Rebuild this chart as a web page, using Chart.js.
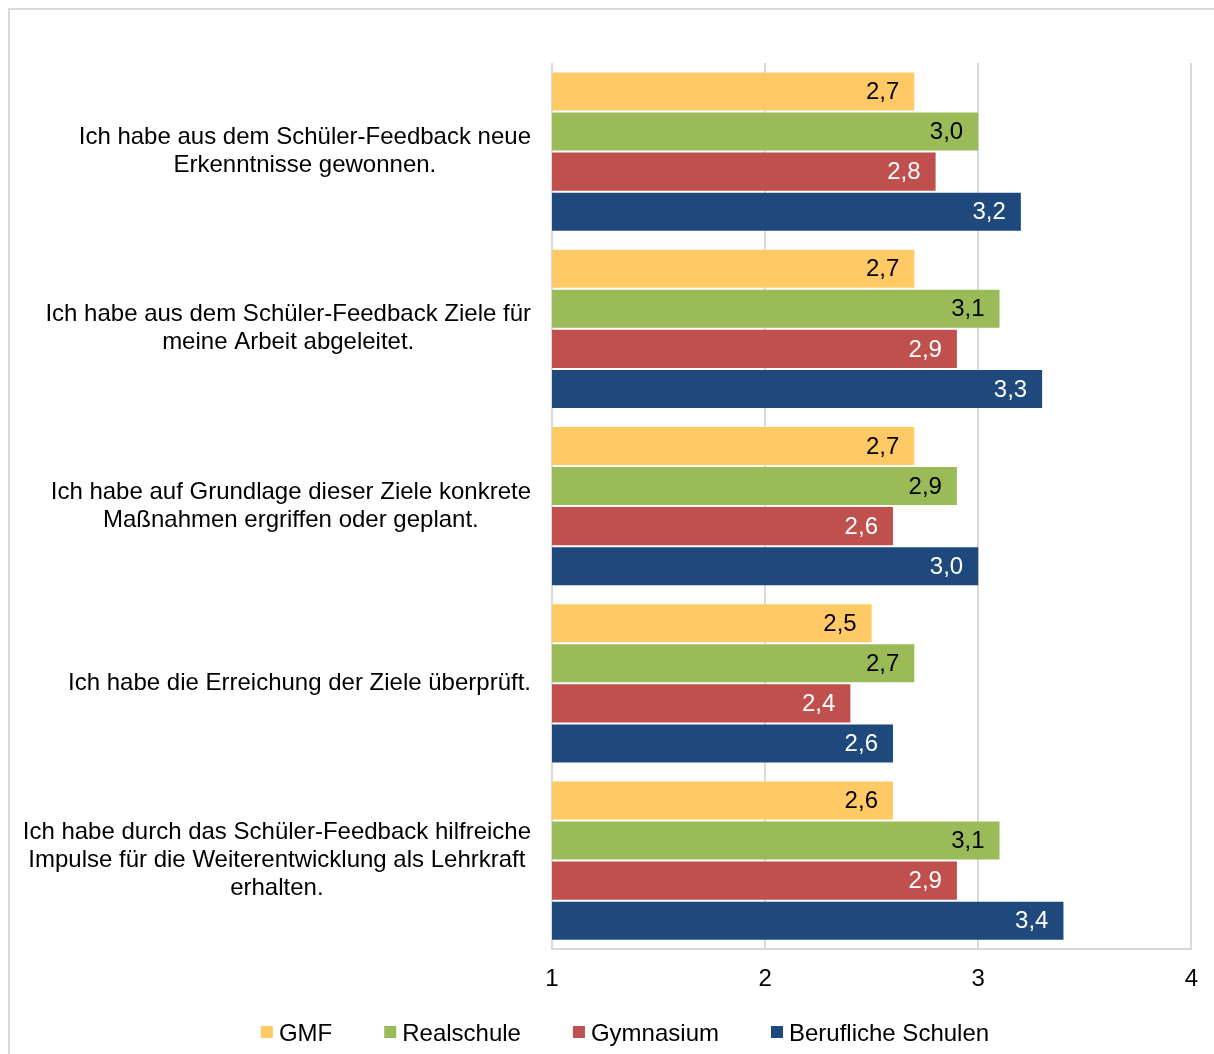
<!DOCTYPE html>
<html>
<head>
<meta charset="utf-8">
<script src="https://cdn.jsdelivr.net/npm/chart.js@4/dist/chart.umd.min.js"></script>
<style>
  html, body { margin: 0; padding: 0; background: #fff; overflow: hidden; }
  #frame {
    position: absolute; left: 8px; top: 8px; width: 1230px; height: 1070px;
    border: 2px solid #d9d9d9; box-sizing: border-box;
  }
  #wrap { position: absolute; left: 0; top: 0; width: 1214px; height: 1054px; }
</style>
</head>
<body>
<div id="frame"></div>
<div id="wrap"><canvas id="chart"></canvas></div>
<script>
  const questions = [
    ["Ich habe aus dem Schüler-Feedback neue", "Erkenntnisse gewonnen."],
    ["Ich habe aus dem Schüler-Feedback Ziele für", "meine Arbeit abgeleitet."],
    ["Ich habe auf Grundlage dieser Ziele konkrete", "Maßnahmen ergriffen oder geplant."],
    ["Ich habe die Erreichung der Ziele überprüft."],
    ["Ich habe durch das Schüler-Feedback hilfreiche", "Impulse für die Weiterentwicklung als Lehrkraft", "erhalten."]
  ];
  const gmf = [2.7, 2.7, 2.7, 2.5, 2.6];
  const realschule = [3.0, 3.1, 2.9, 2.7, 3.1];
  const gymnasium = [2.8, 2.9, 2.6, 2.4, 2.9];
  const beruflich = [3.2, 3.3, 3.0, 2.6, 3.4];
  const xTicks = [1, 2, 3, 4];

  const FONT = "Liberation Sans, Arial, sans-serif";

  // question texts: block right-aligned next to the axis, lines centred in the block
  const questionLabels = {
    id: "questionLabels",
    afterDraw(chart) {
      const ctx = chart.ctx;
      const yScale = chart.scales.y;
      const right = chart.chartArea.left - 21;
      const lh = 28;
      ctx.save();
      ctx.font = "24px " + FONT;
      ctx.fillStyle = "#000";
      ctx.textAlign = "center";
      ctx.textBaseline = "middle";
      chart.data.labels.forEach((lines, i) => {
        const w = Math.max(...lines.map(l => ctx.measureText(l).width));
        const cx = right - w / 2;
        const cy = yScale.getPixelForValue(i);
        lines.forEach((l, j) => {
          ctx.fillText(l, cx, cy + (j - (lines.length - 1) / 2) * lh);
        });
      });
      ctx.restore();
    }
  };

  // value printed inside the end of each bar
  const valueLabels = {
    id: "valueLabels",
    afterDatasetsDraw(chart) {
      const ctx = chart.ctx;
      ctx.save();
      ctx.font = "24px " + FONT;
      ctx.textAlign = "right";
      ctx.textBaseline = "middle";
      chart.data.datasets.forEach((ds, di) => {
        const meta = chart.getDatasetMeta(di);
        ctx.fillStyle = di < 2 ? "#000" : "#fff";
        meta.data.forEach((bar, i) => {
          ctx.fillText(ds.data[i].toFixed(1).replace(".", ","), bar.x - 15, bar.y + 1);
        });
      });
      ctx.restore();
    }
  };

  // one-row legend under the axis: small square, short gap, name
  const bottomLegend = {
    id: "bottomLegend",
    afterDraw(chart) {
      const ctx = chart.ctx;
      const box = 12, gap = 6, spacing = 52, cy = 1033, centerX = 625;
      ctx.save();
      ctx.font = "24px " + FONT;
      ctx.textBaseline = "middle";
      ctx.textAlign = "left";
      const items = chart.data.datasets.map(ds => ({
        text: ds.label, color: ds.backgroundColor, w: ctx.measureText(ds.label).width
      }));
      const total = items.reduce((s, it) => s + box + gap + it.w, 0) + spacing * (items.length - 1);
      let x = centerX - total / 2;
      items.forEach(it => {
        ctx.fillStyle = it.color;
        ctx.fillRect(x, cy - box / 2 - 1, box, box);
        ctx.fillStyle = "#000";
        ctx.fillText(it.text, x + box + gap, cy + 1);
        x += box + gap + it.w + spacing;
      });
      ctx.restore();
    }
  };

  new Chart(document.getElementById("chart"), {
    type: "bar",
    data: {
      labels: questions,
      datasets: [
        { label: "GMF", data: gmf, backgroundColor: "#ffca65" },
        { label: "Realschule", data: realschule, backgroundColor: "#9bbb59" },
        { label: "Gymnasium", data: gymnasium, backgroundColor: "#c0504d" },
        { label: "Berufliche Schulen", data: beruflich, backgroundColor: "#1f497d" }
      ]
    },
    options: {
      indexAxis: "y",
      responsive: true,
      maintainAspectRatio: false,
      animation: false,
      categoryPercentage: 0.904,
      barPercentage: 0.95,
      layout: { padding: { left: 0, top: 63, right: 10, bottom: 44 } },
      scales: {
        x: {
          min: 1,
          max: 4,
          afterBuildTicks: axis => { axis.ticks = xTicks.map(v => ({ value: v })); },
          grid: { color: "#d9d9d9", lineWidth: 2, drawTicks: false },
          border: { color: "#d9d9d9", width: 2 },
          ticks: { color: "#000", font: { family: FONT, size: 24 }, padding: 16 }
        },
        y: {
          grid: { display: false },
          border: { display: false },
          ticks: { display: false },
          afterFit: axis => { axis.width = 552; }
        }
      },
      plugins: {
        legend: { display: false },
        tooltip: { enabled: false }
      }
    },
    plugins: [questionLabels, valueLabels, bottomLegend]
  });
</script>
</body>
</html>
